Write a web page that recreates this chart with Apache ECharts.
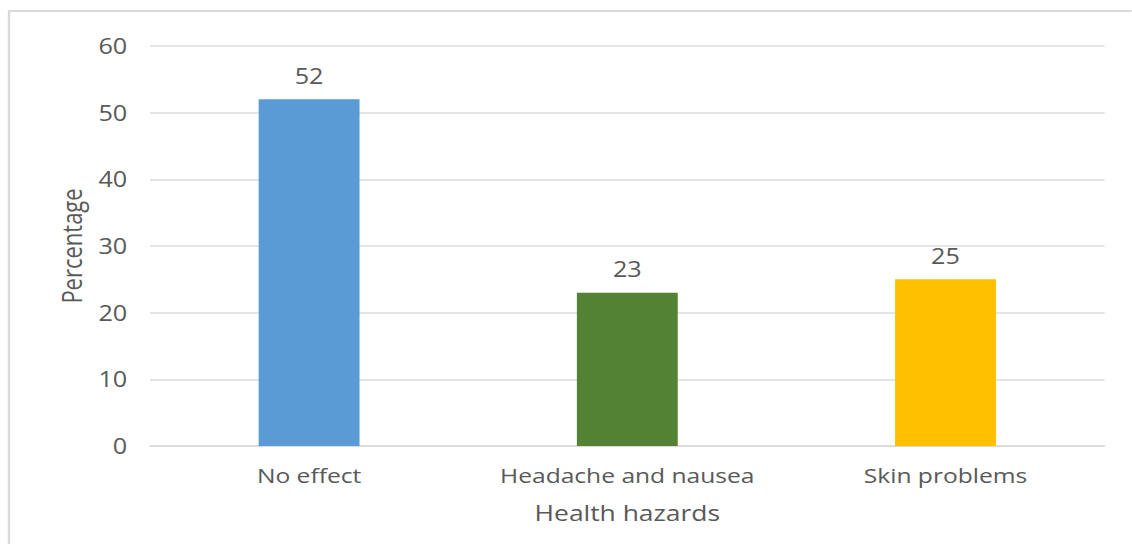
<!DOCTYPE html>
<html>
<head>
<meta charset="utf-8">
<script src="https://cdn.jsdelivr.net/npm/echarts@6/dist/echarts.min.js"></script>
<style>
  html, body { margin: 0; padding: 0; background: #ffffff; overflow: hidden; }
  /* the chart is laid out narrower and widened so glyphs get the wide, flat look */
  #chart { width: 943px; height: 544px; transform: scaleX(1.2); transform-origin: 0 0; }
</style>
</head>
<body>
<div id="chart"></div>
<script>
// Survey results: reported health hazards
const categories = ['No effect', 'Headache and nausea', 'Skin problems'];
const percentages = [52, 23, 25];
const barColors = ['#5B9BD5', '#548235', '#FFC000'];
const yTicks = { min: 0, max: 60, interval: 10 };

const textColor = '#595959';
const fontFamily = '"Open Sans", "DejaVu Sans", sans-serif';

const chart = echarts.init(document.getElementById('chart'), null, { renderer: 'svg' });

chart.setOption({
  backgroundColor: '#ffffff',
  animation: false,
  graphic: [{
    type: 'rect',
    shape: { x: 7.5, y: 11, width: 1200, height: 800 },
    style: { fill: 'none', stroke: '#D9D9D9', lineWidth: 2 },
    silent: true,
    z: -10
  }],
  grid: { left: 125, right: 22.5, top: 46, bottom: 98, containLabel: false },
  xAxis: {
    type: 'category',
    data: categories,
    name: 'Health hazards',
    nameLocation: 'middle',
    nameGap: 55,
    nameTextStyle: { color: textColor, fontSize: 22, fontFamily: fontFamily },
    axisLine: { show: true, lineStyle: { color: '#D9D9D9', width: 1.5 } },
    axisTick: { show: false },
    axisLabel: { color: textColor, fontSize: 20.5, fontFamily: fontFamily, margin: 19, interval: 0 }
  },
  yAxis: {
    type: 'value',
    min: yTicks.min,
    max: yTicks.max,
    interval: yTicks.interval,
    name: 'Percentage',
    nameLocation: 'middle',
    nameGap: 54.5,
    nameRotate: 90,
    nameTextStyle: { color: textColor, fontSize: 22, fontFamily: fontFamily },
    axisLine: { show: false },
    axisTick: { show: false },
    axisLabel: { color: textColor, fontSize: 21, fontFamily: fontFamily, margin: 19 },
    splitLine: { lineStyle: { color: '#DDDDDD', width: 1.5 } }
  },
  series: [{
    type: 'bar',
    barWidth: '31.7%',
    data: percentages.map((v, i) => ({ value: v, itemStyle: { color: barColors[i] } })),
    label: {
      show: true,
      position: 'top',
      distance: 13,
      color: textColor,
      fontSize: 21,
      fontFamily: fontFamily
    }
  }]
});
</script>
</body>
</html>
